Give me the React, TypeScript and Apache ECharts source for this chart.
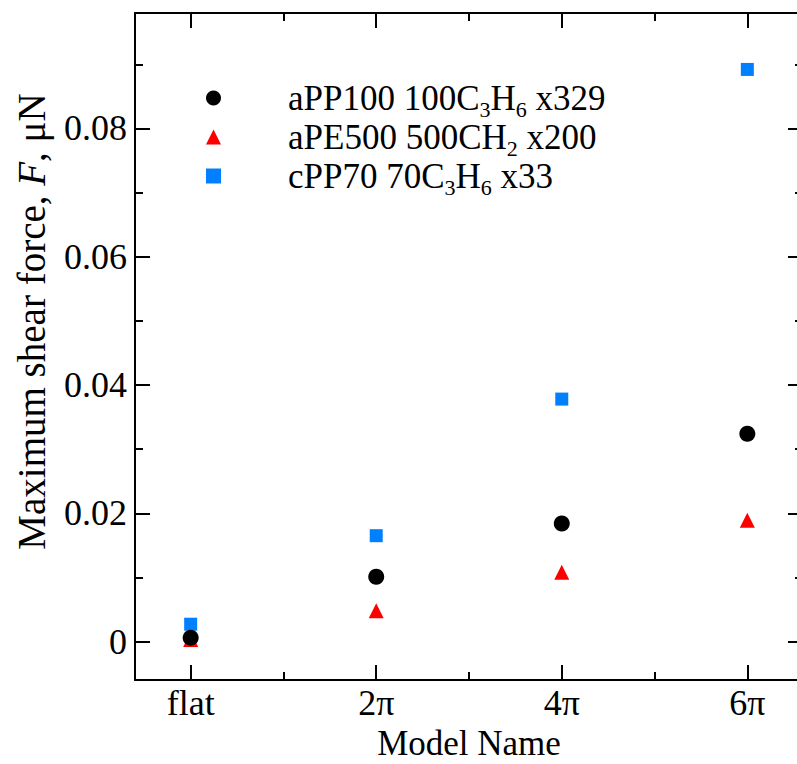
import { useEffect, useRef } from 'react';
import * as echarts from 'echarts';

const categories = ['flat', '2π', '4π', '6π'];
const seriesNames = ['aPP100', 'aPE500', 'cPP70'];
const aPP100 = [0.0006, 0.0101, 0.0184, 0.0324];
const aPE500 = [0.0003, 0.0048, 0.0108, 0.0189];
const cPP70 = [0.0027, 0.0165, 0.0378, 0.0892];
const yMajorTicks = [0, 0.02, 0.04, 0.06, 0.08];
const yMinorTicks = [0.01, 0.03, 0.05, 0.07, 0.09];
const xMajorTicks = [0, 1, 2, 3];
const xMinorTicks = [0.5, 1.5, 2.5];
const legendLabels: Record<string, string> = {
  aPP100: '{first|aPP100 100C}{sub|3}{a|H}{sub|6}{a| x329}',
  aPE500: '{first|aPE500 500CH}{sub|2}{a| x200}',
  cPP70: '{first|cPP70 70C}{sub|3}{a|H}{sub|6}{a| x33}',
};

const FONT = 'Liberation Serif';
const FS_TICK = 36;
const FS_NAME = 35;
const FS_YNAME = 39;
const FS_LEG = 35;
const X_MIN = -0.3, X_MAX = 3.3, Y_MIN = -0.006, Y_MAX = 0.098;

export default function App() {
  const ref = useRef<HTMLDivElement>(null);
  useEffect(() => {
    if (!ref.current) return;
    const chart = echarts.init(ref.current, null, { renderer: 'svg' });
    const gridPos = { left: 135, top: 13, width: 668, height: 667, containLabel: false, outerBoundsMode: 'none' };
    const lineStyle = { color: '#000', width: 2 };
    const axisLineOn = { show: true, onZero: false, lineStyle };
    const axisLineOff = { show: false, onZero: false };
    const tickMajor = (vals: number[]) => ({ show: true, inside: true, length: 15, lineStyle, customValues: vals });
    const tickMinor = (vals: number[]) => ({ show: true, inside: true, length: 8, lineStyle, customValues: vals });
    const toPts = (arr: number[]) => arr.map((v, i) => [i, v]);
    chart.setOption({
      animation: false,
      backgroundColor: '#fff',
      grid: [
        { ...gridPos },
        { ...gridPos },
      ],
      xAxis: [
        {
          gridIndex: 0, type: 'value', position: 'bottom', min: X_MIN, max: X_MAX,
          axisLine: axisLineOn, axisTick: tickMajor(xMajorTicks),
          axisLabel: { customValues: xMajorTicks, formatter: (v: number) => categories[Math.round(v)] ?? '', color: '#000', fontFamily: FONT, fontSize: FS_TICK, margin: 5 },
          splitLine: { show: false },
          name: 'Model Name', nameLocation: 'middle', nameGap: 46,
          nameTextStyle: { color: '#000', fontFamily: FONT, fontSize: FS_NAME },
        },
        {
          gridIndex: 0, type: 'value', position: 'top', min: X_MIN, max: X_MAX,
          axisLine: axisLineOn, axisTick: tickMajor(xMajorTicks),
          axisLabel: { show: false }, splitLine: { show: false },
        },
        {
          gridIndex: 1, type: 'value', position: 'bottom', min: X_MIN, max: X_MAX,
          axisLine: axisLineOff, axisTick: tickMinor(xMinorTicks),
          axisLabel: { show: false }, splitLine: { show: false },
        },
        {
          gridIndex: 1, type: 'value', position: 'top', min: X_MIN, max: X_MAX,
          axisLine: axisLineOff, axisTick: tickMinor(xMinorTicks),
          axisLabel: { show: false }, splitLine: { show: false },
        },
      ],
      yAxis: [
        {
          gridIndex: 0, type: 'value', position: 'left', min: Y_MIN, max: Y_MAX,
          axisLine: axisLineOn, axisTick: tickMajor(yMajorTicks),
          axisLabel: { customValues: yMajorTicks, formatter: (v: number) => (v === 0 ? '0' : v.toFixed(2)), color: '#000', fontFamily: FONT, fontSize: FS_TICK, margin: 8 },
          splitLine: { show: false },
          name: '{a|Maximum shear force, }{i|F}{a|, μN}', nameLocation: 'middle', nameGap: 84, nameRotate: 90,
          nameTextStyle: {
            color: '#000', fontFamily: FONT, fontSize: FS_YNAME, padding: [0, 0, 0, 50],
            rich: {
              a: { color: '#000', fontFamily: FONT, fontSize: FS_YNAME },
              i: { color: '#000', fontFamily: FONT, fontSize: FS_YNAME, fontStyle: 'italic' },
            },
          },
        },
        {
          gridIndex: 0, type: 'value', position: 'right', min: Y_MIN, max: Y_MAX,
          axisLine: axisLineOn, axisTick: tickMajor(yMajorTicks),
          axisLabel: { show: false }, splitLine: { show: false },
        },
        {
          gridIndex: 1, type: 'value', position: 'left', min: Y_MIN, max: Y_MAX,
          axisLine: axisLineOff, axisTick: tickMinor(yMinorTicks),
          axisLabel: { show: false }, splitLine: { show: false },
        },
        {
          gridIndex: 1, type: 'value', position: 'right', min: Y_MIN, max: Y_MAX,
          axisLine: axisLineOff, axisTick: tickMinor(yMinorTicks),
          axisLabel: { show: false }, splitLine: { show: false },
        },
      ],
      legend: {
        orient: 'vertical', left: 201, top: 71, itemWidth: 15, itemHeight: 15, itemGap: -5,
        selectedMode: false,
        data: seriesNames,
        formatter: (name: string) => legendLabels[name] ?? name,
        textStyle: {
          color: '#000', fontFamily: FONT, fontSize: FS_LEG,
          rich: {
            first: { color: '#000', fontFamily: FONT, fontSize: FS_LEG, lineHeight: 34, padding: [0, 0, 0, 62] },
            a: { color: '#000', fontFamily: FONT, fontSize: FS_LEG, lineHeight: 34 },
            sub: { color: '#000', fontFamily: FONT, fontSize: 22, lineHeight: 1, padding: [22, 0, 0, 0] },
          },
        },
      },
      series: [
        { name: seriesNames[0], type: 'scatter', xAxisIndex: 0, yAxisIndex: 0, symbol: 'circle', symbolSize: 16, itemStyle: { color: '#000000', opacity: 1 }, data: toPts(aPP100), z: 4 },
        { name: seriesNames[1], type: 'scatter', xAxisIndex: 0, yAxisIndex: 0, symbol: 'triangle', symbolSize: 15, itemStyle: { color: '#ff0000', opacity: 1 }, data: toPts(aPE500), z: 3 },
        { name: seriesNames[2], type: 'scatter', xAxisIndex: 0, yAxisIndex: 0, symbol: 'rect', symbolSize: 13, itemStyle: { color: '#0080ff', opacity: 1 }, data: toPts(cPP70), z: 2 },
      ],
    });
    return () => chart.dispose();
  }, []);
  return <div ref={ref} style={{ position: 'absolute', left: 0, top: 0, width: 797, height: 764 }} />;
}
